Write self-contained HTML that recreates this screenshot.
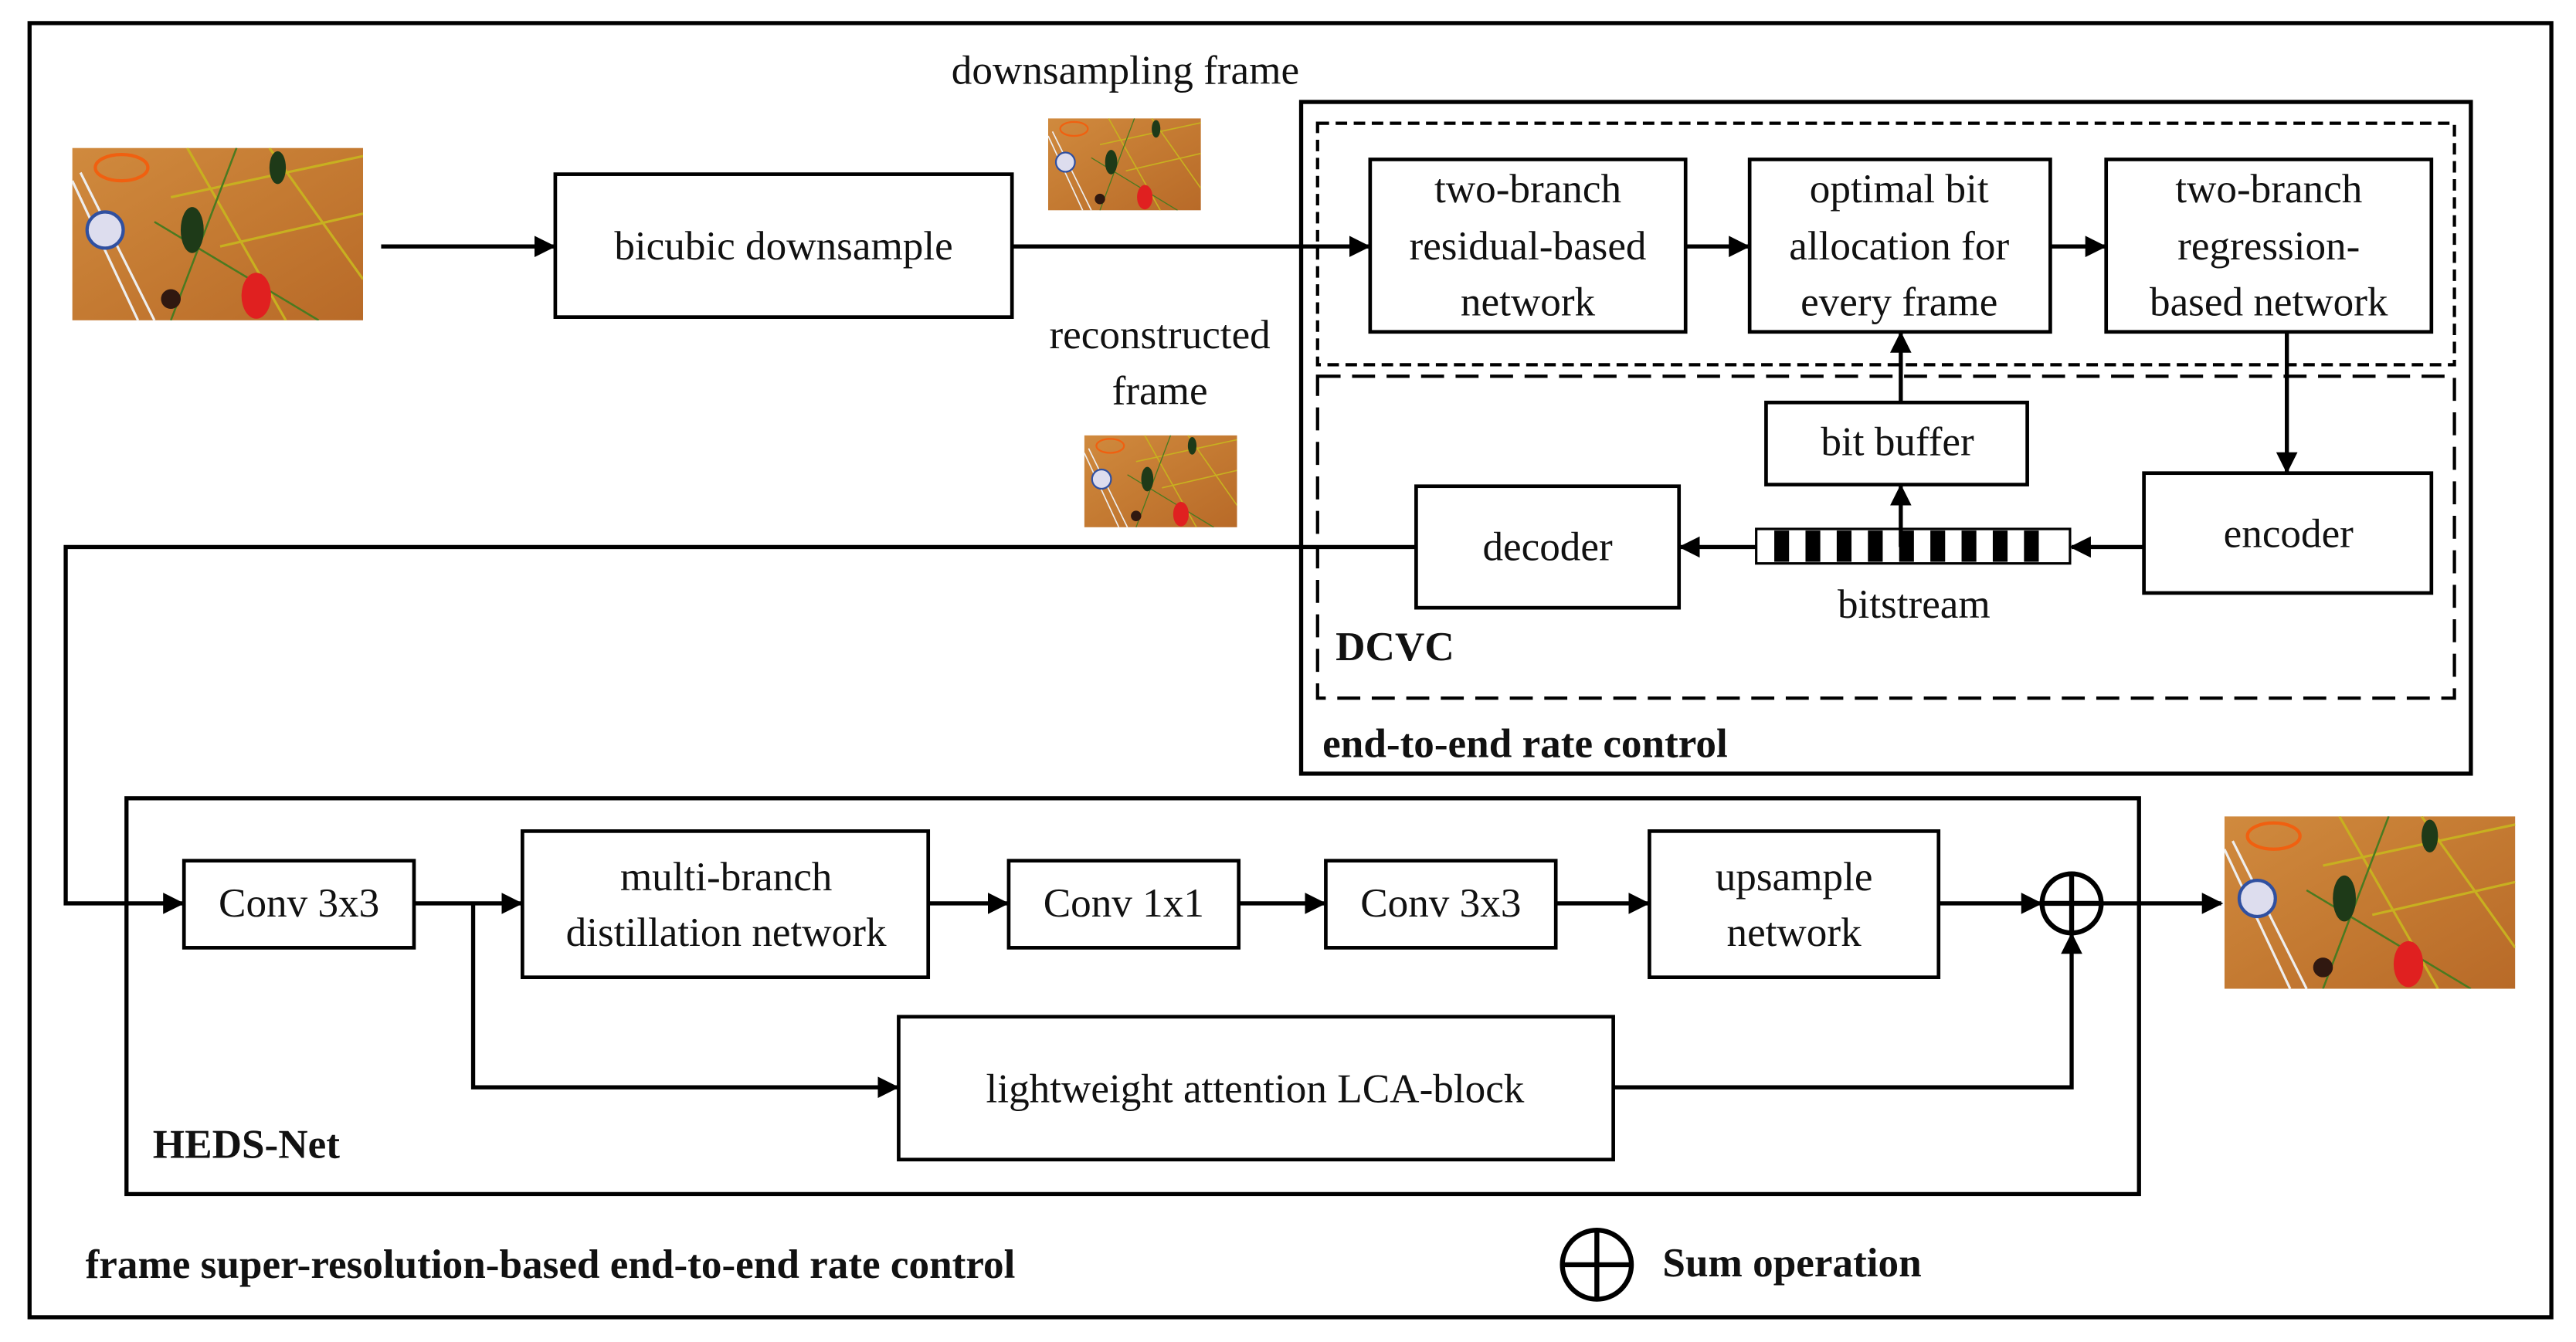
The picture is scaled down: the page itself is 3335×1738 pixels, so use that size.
<!DOCTYPE html>
<html><head><meta charset="utf-8"><style>
html,body{margin:0;padding:0;background:#fff;}
svg{display:block;}
svg text{font-family:"Liberation Serif","Times New Roman",Times,serif;fill:#111;}
</style></head><body>
<svg width="3335" height="1738" viewBox="0 0 1568 817" xmlns="http://www.w3.org/2000/svg" font-family="'Liberation Serif', 'Times New Roman', serif">
<defs>
<marker id="ar" viewBox="0 0 10 10" refX="9" refY="5" markerWidth="13" markerHeight="13" orient="auto" markerUnits="userSpaceOnUse">
<path d="M0,0 L10,5 L0,10 z" fill="#000"/></marker>
<linearGradient id="fl" x1="0" y1="0" x2="1" y2="1">
<stop offset="0" stop-color="#d08a3e"/><stop offset="0.5" stop-color="#c47a32"/><stop offset="1" stop-color="#b86a28"/></linearGradient>
<symbol id="img" viewBox="0 0 177 105" preserveAspectRatio="none">
<rect width="177" height="105" fill="url(#fl)"/>
<path d="M60,30 L177,5 M90,60 L177,40 M70,0 L130,105 M120,0 L177,80" stroke="#c8b020" stroke-width="1.5" fill="none"/>
<path d="M50,45 L150,105 M100,0 L60,105" stroke="#4a7a20" stroke-width="1.2" fill="none"/>
<path d="M0,20 L40,105 M5,15 L50,105" stroke="#eee" stroke-width="1.5"/>
<ellipse cx="30" cy="12" rx="16" ry="8" fill="none" stroke="#f06010" stroke-width="2"/>
<circle cx="20" cy="50" r="11" fill="#dde" stroke="#3050a0" stroke-width="2"/>
<ellipse cx="73" cy="50" rx="7" ry="14" fill="#1e3a18"/>
<ellipse cx="125" cy="12" rx="5" ry="10" fill="#1e3a18"/>
<ellipse cx="112" cy="90" rx="9" ry="14" fill="#e02020"/>
<circle cx="60" cy="92" r="6" fill="#301810"/>
</symbol>
</defs>
<g fill="none" stroke="#000">
<rect x="18" y="14" width="1535" height="788" stroke-width="2.5"/>
<rect x="792" y="62" width="712" height="409" stroke-width="2.5"/>
<rect x="802" y="75" width="692" height="147" stroke-width="2" stroke-dasharray="7,4"/>
<rect x="802" y="229" width="692" height="196" stroke-width="2" stroke-dasharray="14,7"/>
<rect x="77" y="486" width="1225" height="241" stroke-width="2.5"/>
<g stroke-width="2.2">
<rect x="338" y="106" width="278" height="87"/>
<rect x="834" y="97" width="192" height="105"/>
<rect x="1065" y="97" width="183" height="105"/>
<rect x="1282" y="97" width="198" height="105"/>
<rect x="1075" y="245" width="159" height="50"/>
<rect x="1305" y="288" width="175" height="73"/>
<rect x="862" y="296" width="160" height="74"/>
<rect x="112" y="524" width="140" height="53"/>
<rect x="318" y="506" width="247" height="89"/>
<rect x="614" y="524" width="140" height="53"/>
<rect x="807" y="524" width="140" height="53"/>
<rect x="1004" y="506" width="176" height="89"/>
<rect x="547" y="619" width="435" height="87"/>
</g>
<g stroke-width="2.5">
<line x1="232" y1="150" x2="337" y2="150" marker-end="url(#ar)"/>
<line x1="616" y1="150" x2="833" y2="150" marker-end="url(#ar)"/>
<line x1="1026" y1="150" x2="1064" y2="150" marker-end="url(#ar)"/>
<line x1="1248" y1="150" x2="1281" y2="150" marker-end="url(#ar)"/>
<line x1="1157" y1="245" x2="1157" y2="203" marker-end="url(#ar)"/>
<line x1="1392" y1="202" x2="1392" y2="287" marker-end="url(#ar)"/>
<line x1="1305" y1="333" x2="1261" y2="333" marker-end="url(#ar)"/>
<line x1="1069" y1="333" x2="1023" y2="333" marker-end="url(#ar)"/>
<polyline points="862,333 40,333 40,550 111,550" marker-end="url(#ar)"/>
<line x1="252" y1="550" x2="317" y2="550" marker-end="url(#ar)"/>
<polyline points="288,550 288,662 546,662" marker-end="url(#ar)"/>
<line x1="565" y1="550" x2="613" y2="550" marker-end="url(#ar)"/>
<line x1="754" y1="550" x2="806" y2="550" marker-end="url(#ar)"/>
<line x1="947" y1="550" x2="1003" y2="550" marker-end="url(#ar)"/>
<line x1="1180" y1="550" x2="1242" y2="550" marker-end="url(#ar)"/>
<polyline points="982,662 1261,662 1261,569" marker-end="url(#ar)"/>
<line x1="1279" y1="550" x2="1352" y2="550" marker-end="url(#ar)"/>
</g>
<circle cx="1261" cy="550" r="18" stroke-width="3"/>
<path d="M1243,550 H1279 M1261,532 V568" stroke-width="3"/>
<circle cx="972" cy="770" r="21" stroke-width="3"/>
<path d="M951,770 H993 M972,749 V791" stroke-width="3"/>
</g>
<rect x="1069" y="322" width="191" height="21" fill="#fff" stroke="#000" stroke-width="1.5"/>
<g fill="#000">
<rect x="1080" y="323" width="9" height="19"/><rect x="1099" y="323" width="9" height="19"/><rect x="1118" y="323" width="9" height="19"/><rect x="1137" y="323" width="9" height="19"/><rect x="1156" y="323" width="9" height="19"/><rect x="1175" y="323" width="9" height="19"/><rect x="1194" y="323" width="9" height="19"/><rect x="1213" y="323" width="9" height="19"/><rect x="1232" y="323" width="9" height="19"/>
</g>
<line x1="1157" y1="333" x2="1157" y2="296" stroke="#000" stroke-width="2.5" marker-end="url(#ar)"/>
<use href="#img" x="44" y="90" width="177" height="105"/>
<use href="#img" x="638" y="72" width="93" height="56"/>
<use href="#img" x="660" y="265" width="93" height="56"/>
<use href="#img" x="1354" y="497" width="177" height="105"/>
<g font-size="25" text-anchor="middle">
<text x="685" y="51">downsampling frame</text>
<text x="477" y="158">bicubic downsample</text>
<text x="706" y="212">reconstructed</text>
<text x="706" y="246">frame</text>
<text x="930" y="123">two-branch</text>
<text x="930" y="158">residual-based</text>
<text x="930" y="192">network</text>
<text x="1156" y="123">optimal bit</text>
<text x="1156" y="158">allocation for</text>
<text x="1156" y="192">every frame</text>
<text x="1381" y="123">two-branch</text>
<text x="1381" y="158">regression-</text>
<text x="1381" y="192">based network</text>
<text x="1155" y="277">bit buffer</text>
<text x="1393" y="333">encoder</text>
<text x="942" y="341">decoder</text>
<text x="1165" y="376">bitstream</text>
<text x="182" y="558">Conv 3x3</text>
<text x="442" y="542">multi-branch</text>
<text x="442" y="576">distillation network</text>
<text x="684" y="558">Conv 1x1</text>
<text x="877" y="558">Conv 3x3</text>
<text x="1092" y="542">upsample</text>
<text x="1092" y="576">network</text>
<text x="764" y="671">lightweight attention LCA-block</text>
</g>
<g font-size="25" font-weight="bold">
<text x="813" y="402">DCVC</text>
<text x="805" y="461">end-to-end rate control</text>
<text x="93" y="705">HEDS-Net</text>
<text x="52" y="778">frame super-resolution-based end-to-end rate control</text>
<text x="1012" y="777">Sum operation</text>
</g>
</svg>
</body></html>
